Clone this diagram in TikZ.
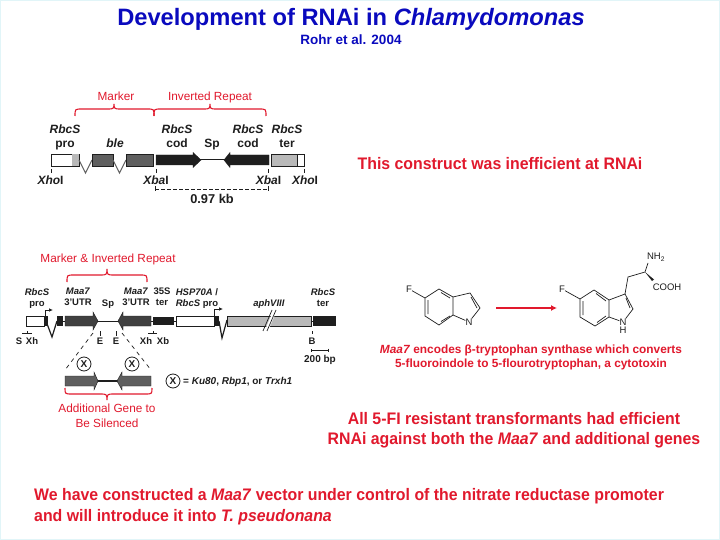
\documentclass[tikz,border=0pt]{standalone}
\usepackage{fontspec}
\setmainfont{Liberation Sans}
\newfontfamily\slimfont[FakeStretch=0.95]{Liberation Sans}
\usetikzlibrary{arrows.meta}
\definecolor{tblue}{RGB}{10,10,190}
\definecolor{tred}{RGB}{225,25,45}
\definecolor{ink}{RGB}{30,30,30}
\definecolor{dgrey}{RGB}{95,95,95}
\definecolor{lgrey}{RGB}{185,185,185}
\definecolor{blk}{RGB}{30,30,30}
\definecolor{edgec}{RGB}{225,245,248}
\tikzset{
  lab/.style={font=\fontsize{12}{12}\selectfont\bfseries,text=ink,inner sep=0pt,text height=8.6pt,text depth=0pt},
  slab/.style={font=\fontsize{9.5}{9.5}\selectfont\bfseries,text=ink,inner sep=0pt,text height=6.8pt,text depth=0pt},
  rlab/.style={font=\fontsize{11.8}{11.8}\selectfont,text=tred,inner sep=0pt,text height=8.5pt,text depth=0pt},
  rhead/.style={font=\slimfont\fontsize{16.7}{16.7}\selectfont\bfseries,text=tred,inner sep=0pt},
  chem/.style={font=\fontsize{9.5}{9.5}\selectfont,text=ink,inner sep=0pt},
  bx/.style={draw=ink,line width=0.7pt},
  bond/.style={draw=ink,line width=0.7pt},
  wire/.style={draw=ink,line width=1pt},
  brc/.style={draw=tred,line width=1.1pt},
  xmark/.style={circle,draw=ink,line width=0.8pt,minimum size=14pt,inner sep=0pt,font=\fontsize{10}{10}\selectfont\bfseries,text=ink}
}
% right-pointing arrow: x0, xhead, xtip, yc, half body, half head, colour
\newcommand{\genearrow}[7]{\fill[#7,draw=ink,line width=0.4pt] (#1,#4-#5)--(#2,#4-#5)--(#2,#4-#6)--(#3,#4)--(#2,#4+#6)--(#2,#4+#5)--(#1,#4+#5)--cycle;}
% brace: x1,xm,x2,yend,ybar,ypeak
\newcommand{\redbr}[6]{\draw[brc] (#1,#4) .. controls (#1,#5) and (#1,#5) .. (#1+7,#5) -- (#2-6,#5) .. controls (#2-1,#5) and (#2,#5) .. (#2,#6) .. controls (#2,#5) and (#2+1,#5) .. (#2+6,#5) -- (#3-7,#5) .. controls (#3,#5) and (#3,#5) .. (#3,#4);}
\begin{document}
\begin{tikzpicture}[x=1pt,y=-1pt]
\useasboundingbox (0,0) rectangle (720,540);
\fill[white] (0,0) rectangle (720,540);
\draw[edgec,line width=2pt] (0,0) rectangle (720,540);
% title
\node[inner sep=0pt,text=tblue,font=\fontsize{23.7}{23.7}\selectfont\bfseries] (title) at (351,19) {Development of RNAi in \textit{Chlamydomonas}};
\node[inner sep=0pt,text=tblue,font=\fontsize{13.5}{13.5}\selectfont\bfseries] (cite) at (351,40) {Rohr et al. 2004};
% ---- construct 1
\node[rlab] (mk) at (116,96) {Marker};
\node[rlab] (ir) at (210,96) {Inverted Repeat};
\redbr{75}{114}{154}{116}{109}{104}
\redbr{154}{210}{266}{116}{109}{104}
\node[lab] (a1) at (65,129) {\textit{RbcS}};
\node[lab] (a2) at (65,143) {pro};
\node[lab] (a3) at (115,143) {\textit{ble}};
\node[lab] (a4) at (177,129) {\textit{RbcS}};
\node[lab] (a5) at (177,143) {cod};
\node[lab] (a6) at (212,143) {Sp};
\node[lab] (a7) at (248,129) {\textit{RbcS}};
\node[lab] (a8) at (248,143) {cod};
\node[lab] (a9) at (287,129) {\textit{RbcS}};
\node[lab] (a10) at (287,143) {ter};
\draw[bx,fill=white] (51,154) rectangle (79,166);
\fill[lgrey] (72,154.4) rectangle (78.6,165.6);
\draw[wire,draw=dgrey] (79,160)--(85.5,173)--(92,160);
\draw[bx,fill=dgrey] (92,154) rectangle (113,166);
\draw[wire,draw=dgrey] (113,160)--(119.5,173)--(126,160);
\draw[bx,fill=dgrey] (126,154) rectangle (153,166);
\draw[wire] (200,160)--(225,160);
\genearrow{156}{193}{201}{160}{5}{7.5}{blk}
\genearrow{269}{230}{224}{160}{5}{7.5}{blk}
\draw[bx,fill=white] (271,154) rectangle (304,166);
\draw[bx,fill=lgrey] (271,154) rectangle (297,166);
\foreach \x in {51,156,268,304}{\draw[ink,line width=0.6pt] (\x,169)--(\x,173);}
\node[lab] (x1) at (50.5,180.5) {\textit{Xho}I};
\node[lab] (x2) at (156,180.5) {\textit{Xba}I};
\node[lab] (x3) at (268.5,180.5) {\textit{Xba}I};
\node[lab] (x4) at (305,180.5) {\textit{Xho}I};
\draw[ink,line width=0.7pt,dash pattern=on 3.5pt off 2.5pt] (155,189)--(268,189);
\draw[ink,line width=0.7pt] (155,186.5)--(155,191.5) (268,186.5)--(268,191.5);
\node[lab,font=\fontsize{12.8}{12.8}\selectfont\bfseries] (kb) at (212,199) {0.97 kb};
\node[rhead] (h1) at (500,164) {This construct was inefficient at RNAi};
% ---- construct 2
\node[rlab] (mi) at (108,258) {Marker \& Inverted Repeat};
\redbr{67}{107}{147}{282}{275}{269}
\node[slab] (b1) at (37,292) {\textit{RbcS}};
\node[slab] (b2) at (37,303) {pro};
\node[slab] (b3) at (78,291) {\textit{Maa7}};
\node[slab] (b4) at (78,302) {3'UTR};
\node[slab] (b5) at (108,303) {Sp};
\node[slab] (b6) at (136,291) {\textit{Maa7}};
\node[slab] (b7) at (136,302) {3'UTR};
\node[slab] (b8) at (162,291) {35S};
\node[slab] (b9) at (162,302) {ter};
\node[slab] (b10) at (197,292) {\textit{HSP70A} /};
\node[slab] (b11) at (197,303) {\textit{RbcS} pro};
\node[slab] (b12) at (269,303) {\textit{aphVIII}};
\node[slab] (b13) at (323,292) {\textit{RbcS}};
\node[slab] (b14) at (323,303) {ter};
\draw[bx,fill=white] (26,316) rectangle (44,326);
\fill[blk] (44,316) rectangle (48,326);
\draw[wire,line width=1.2pt] (46,321)--(52,337)--(57,321);
\fill[blk] (57,316) rectangle (63,326);
\draw[wire] (63,321)--(65,321);
\draw[ink,line width=0.7pt,-{Latex[length=4pt,width=3.5pt]}] (45,316)--(45,310)--(53,310);
\draw[wire] (97,321)--(119,321);
\genearrow{65}{93}{98}{321}{5}{9}{blk!85!white}
\genearrow{151}{123}{118}{321}{5}{9}{blk!85!white}
\draw[wire] (151,321)--(176,321);
\fill[blk] (153,317) rectangle (174,325);
\draw[bx,fill=white] (176,316) rectangle (214,326);
\fill[blk] (214,316) rectangle (219,326);
\draw[wire,line width=1.2pt] (219,321)--(222,338)--(227,320);
\draw[ink,line width=0.7pt,-{Latex[length=4pt,width=3.5pt]}] (214,316)--(214,309)--(223,309);
\draw[bx,fill=lgrey] (227,316) rectangle (311,326);
\fill[white] (264.5,331)--(268,331)--(277,310)--(273.5,310)--cycle;
\draw[ink,line width=0.7pt] (263,331)--(272,310) (267,331)--(276,310);
\draw[wire] (311,321)--(313,321);
\fill[blk] (313,316) rectangle (336,326);
\draw[ink,line width=0.6pt] (22,333)--(32,333) (27,331)--(27,333);
\draw[ink,line width=0.6pt] (148,333)--(157,333) (153,331)--(153,333);
\draw[ink,line width=0.8pt] (100,331)--(100,336) (116,331)--(116,336);
\draw[ink,line width=1pt] (312,331)--(312,333.5);
\node[slab] (c1) at (19,341) {S};
\node[slab] (c2) at (32,341) {Xh};
\node[slab] (c3) at (100,341) {E};
\node[slab] (c4) at (116,341) {E};
\node[slab] (c5) at (146,341) {Xh};
\node[slab] (c6) at (163,341) {Xb};
\node[slab] (c7) at (312,341) {B};
\draw[ink,line width=0.6pt,{Bar[width=3pt]}-{Bar[width=3pt]}] (311,350)--(329,350);
\node[slab,font=\fontsize{10}{10}\selectfont\bfseries] (bp) at (320,359) {200 bp};
\draw[ink,line width=0.7pt,dash pattern=on 4pt off 4pt] (93,333)--(65,370) (122,333)--(151,370);
\node[xmark] (x5) at (84,364) {X};
\node[xmark] (x6) at (132,364) {X};
\draw[ink,line width=1.4pt] (97,381)--(118,381);
\genearrow{65}{94}{98}{381}{5}{9}{dgrey}
\genearrow{151}{122}{117}{381}{5}{9}{dgrey}
\node[xmark] (x7) at (173,381) {X};
\node[slab,anchor=west,font=\fontsize{10}{10}\selectfont\bfseries] (leg) at (183,381) {= \textit{Ku80}, \textit{Rbp1}, or \textit{Trxh1}};
\redbr{65}{107}{152}{388}{394}{400}
\node[rlab] (ag1) at (107,408) {Additional Gene to};
\node[rlab] (ag2) at (107,423) {Be Silenced};
% ---- indole
\node[chem] (f1) at (409,289) {F};
\node[chem] (n1) at (469,322) {N};
\coordinate (a) at (439,289);\coordinate (b) at (453,297);\coordinate (c) at (453,315);
\coordinate (d) at (439,325);\coordinate (e) at (425,316);\coordinate (g) at (425,298);
\coordinate (h) at (470,293);\coordinate (i) at (480,308);
\draw[bond] (f1)--(g)--(a)--(b)--(c)--(d)--(e)--(g);
\draw[bond] (b)--(h)--(i)--(n1)--(c);
\draw[bond] (428,300)--(428,314) (441,292.5)--(450,298) (441,321.5)--(450,316) (471,297)--(477,308);
\draw[tred,line width=1.6pt,-{Latex[length=6pt,width=6pt]}] (496,308)--(557,308);
% ---- tryptophan
\node[chem] (f2) at (562,289) {F};
\node[chem] (n2) at (623,322) {N};
\node[chem] (hh) at (623,330.5) {H};
\node[chem,anchor=center] (nh) at (656,257) {NH\textsubscript{2}};
\node[chem] (cooh) at (667,287) {COOH};
\coordinate (a2) at (594,290);\coordinate (b2) at (609,300);\coordinate (c2) at (609,317);
\coordinate (d2) at (595,326);\coordinate (e2) at (580,317);\coordinate (g2) at (580,299);
\coordinate (h2) at (625,294);\coordinate (i2) at (633,309);
\coordinate (j2) at (628,277);\coordinate (k2) at (645,272);
\draw[bond] (f2)--(g2)--(a2)--(b2)--(c2)--(d2)--(e2)--(g2);
\draw[bond] (b2)--(h2)--(i2)--(n2)--(c2);
\draw[bond] (583,301)--(583,315) (596,293.5)--(606,301) (597,322.5)--(606,316) (626,298)--(630,308);
\draw[bond] (h2)--(j2)--(k2)--(648,263);
\fill[ink] (645,272)--(652,281)--(654,279.5)--cycle;
\node[inner sep=0pt,text=tred,font=\fontsize{11.85}{11.85}\selectfont\bfseries] (m1) at (531,350) {\textit{Maa7} encodes β-tryptophan synthase which converts};
\node[inner sep=0pt,text=tred,font=\fontsize{11.85}{11.85}\selectfont\bfseries] (m2) at (531,364) {5-fluoroindole to 5-flourotryptophan, a cytotoxin};
\node[rhead] (h2a) at (514,419) {All 5-FI resistant transformants had efficient};
\node[rhead] (h2b) at (514,440) {RNAi against both the \textit{Maa7} and additional genes};
\node[rhead,anchor=west] (h3a) at (34,496) {We have constructed a \textit{Maa7} vector under control of the nitrate reductase promoter};
\node[rhead,anchor=west] (h3b) at (34,517) {and will introduce it into \textit{T. pseudonana}};
\end{tikzpicture}
\end{document}
